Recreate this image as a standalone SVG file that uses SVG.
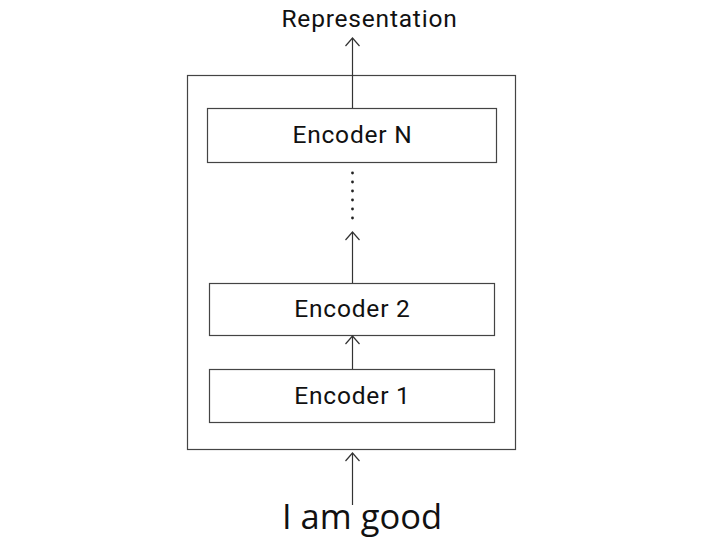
<svg xmlns="http://www.w3.org/2000/svg" width="724" height="540" viewBox="0 0 724 540">
<style>
.box{fill:#fff;stroke:#444;stroke-width:1.2}
.t{font-family:Roboto,"Liberation Sans",sans-serif;font-size:24.5px;letter-spacing:0.8px;fill:#111;text-anchor:middle}
.c{stroke:#333;stroke-width:1.2;fill:none}
</style>
<defs>
<marker id="ah" viewBox="0 0 20 20" refX="10" refY="10" markerWidth="20" markerHeight="20" markerUnits="userSpaceOnUse" orient="auto">
<path d="M2,3 L10,10 L2,17" fill="none" stroke="#333" stroke-width="1.2"/>
</marker>
</defs>
<rect width="724" height="540" fill="#fff"/>
<g id="container"><rect class="box" x="187.5" y="75.5" width="328" height="374"/></g>
<g id="encN"><rect class="box" x="207.5" y="108.5" width="289" height="54"/><text class="t" x="352.5" y="143">Encoder N</text></g>
<g id="enc2"><rect class="box" x="209.5" y="283.5" width="285" height="52"/><text class="t" x="352.5" y="317">Encoder 2</text></g>
<g id="enc1"><rect class="box" x="209.5" y="369.5" width="285" height="53"/><text class="t" x="352.5" y="404">Encoder 1</text></g>
<g id="rep"><text class="t" x="369.5" y="27">Representation</text></g>
<g id="input"><text x="362" y="529" font-family="'Open Sans','Noto Sans',sans-serif" font-size="34.5" fill="#111" text-anchor="middle">I am good</text></g>
<g id="connectors">
<line class="c" x1="352.5" y1="108" x2="352.5" y2="38" marker-end="url(#ah)"/>
<line class="c" x1="352.5" y1="283" x2="352.5" y2="232" marker-end="url(#ah)"/>
<line class="c" x1="352.5" y1="369" x2="352.5" y2="336" marker-end="url(#ah)"/>
<line class="c" x1="352.5" y1="505" x2="352.5" y2="453" marker-end="url(#ah)"/>
<g fill="#222">
<circle cx="352.5" cy="173" r="1.4"/><circle cx="352.5" cy="182" r="1.4"/><circle cx="352.5" cy="191" r="1.4"/><circle cx="352.5" cy="200" r="1.4"/><circle cx="352.5" cy="209" r="1.4"/><circle cx="352.5" cy="218" r="1.4"/>
</g>
</g>
</svg>
